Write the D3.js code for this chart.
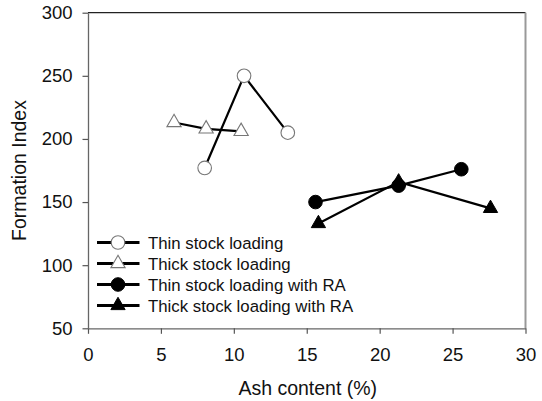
<!DOCTYPE html>
<html>
<head>
<meta charset="utf-8">
<script src="https://cdn.jsdelivr.net/npm/d3@7"></script>
<style>
  html, body { margin: 0; padding: 0; background: #fff; }
  svg { display: block; font-family: "Liberation Sans", Arial, sans-serif; }
</style>
</head>
<body>
<svg id="chart" width="542" height="401"></svg>
<script>
// ---- Data ----
const seriesNames = ["Thin stock loading", "Thick stock loading", "Thin stock loading with RA", "Thick stock loading with RA"];
const thinX = [8.0, 10.7, 13.7];
const thinY = [177, 250, 205];
const thickX = [5.9, 8.1, 10.5];
const thickY = [213, 208, 206];
const thinRAX = [15.6, 21.3, 25.6];
const thinRAY = [150, 163, 176];
const thickRAX = [15.8, 21.3, 27.6];
const thickRAY = [133, 166, 145];
const xTicks = [0, 5, 10, 15, 20, 25, 30];
const yTicks = [50, 100, 150, 200, 250, 300];
const xLabel = "Ash content (%)";
const yLabel = "Formation Index";

(function () {
const series = [
  { name: seriesNames[0], xs: thinX, ys: thinY, shape: "circle", filled: false },
  { name: seriesNames[1], xs: thickX, ys: thickY, shape: "triangle", filled: false },
  { name: seriesNames[2], xs: thinRAX, ys: thinRAY, shape: "circle", filled: true },
  { name: seriesNames[3], xs: thickRAX, ys: thickRAY, shape: "triangle", filled: true }
];

// ---- Layout ----
const svg = d3.select("#chart");
const pL = 88, pR = 525.5, pT = 12.7, pB = 328.3;
const x = d3.scaleLinear().domain([0, 30]).range([pL, pR]);
const y = d3.scaleLinear().domain([50, 300]).range([pB, pT]);

// Frame top & right
svg.append("line").attr("x1", pL).attr("x2", pR).attr("y1", pT).attr("y2", pT)
  .attr("stroke", "#222").attr("stroke-width", 1.3);
svg.append("line").attr("x1", pR).attr("x2", pR).attr("y1", pT).attr("y2", pB)
  .attr("stroke", "#999").attr("stroke-width", 2);

// Axes
const xAxis = svg.append("g").attr("transform", `translate(0,${pB})`)
  .call(d3.axisBottom(x).tickValues(xTicks).tickSize(5.5).tickSizeOuter(0).tickPadding(14));
const yAxis = svg.append("g").attr("transform", `translate(${pL},0)`)
  .call(d3.axisLeft(y).tickValues(yTicks).tickSize(5.5).tickSizeOuter(0).tickPadding(10));
[xAxis, yAxis].forEach(g => {
  g.select(".domain").attr("stroke", "#666").attr("stroke-width", 1.3);
  g.selectAll(".tick line").attr("stroke", "#555").attr("stroke-width", 1.2);
  g.selectAll(".tick text").attr("fill", "#111").style("font-size", "18.5px")
    .style("font-family", "'Liberation Sans', Arial, sans-serif");
});
xAxis.selectAll(".tick text").attr("dy", "0.71em");

// Axis titles
svg.append("text").attr("x", (pL + pR) / 2 + 1).attr("y", 395)
  .attr("text-anchor", "middle").style("font-size", "19.5px").attr("fill", "#111").text(xLabel);
svg.append("text").attr("transform", `translate(26,${(pT + pB) / 2}) rotate(-90)`)
  .attr("text-anchor", "middle").style("font-size", "19.5px").attr("fill", "#111").text(yLabel);

// Markers
function symPath(shape) {
  return shape === "circle"
    ? d3.symbol().type(d3.symbolCircle).size(Math.PI * 6.8 * 6.8)()
    : d3.symbol().type(d3.symbolTriangle).size(88)();
}
function drawMarker(g, s, cx, cy) {
  g.append("path").attr("d", symPath(s.shape))
    .attr("transform", `translate(${cx},${cy})`)
    .attr("fill", s.filled ? "#000" : "#fff")
    .attr("stroke", s.filled ? "#000" : "#777")
    .attr("stroke-width", s.filled ? 1 : 1.1);
}

const line = d3.line().x(d => x(d[0])).y(d => y(d[1]));
series.forEach(s => {
  const pts = s.xs.map((v, i) => [v, s.ys[i]]);
  svg.append("path").attr("d", line(pts)).attr("fill", "none")
    .attr("stroke", "#000").attr("stroke-width", 2.2);
});
series.forEach(s => {
  const g = svg.append("g");
  s.xs.forEach((v, i) => drawMarker(g, s, x(v), y(s.ys[i])));
});

// Legend
const legY = [242.5, 263.5, 284.5, 305.5];
series.forEach((s, i) => {
  const g = svg.append("g");
  g.append("line").attr("x1", 97).attr("x2", 139.5).attr("y1", legY[i]).attr("y2", legY[i])
    .attr("stroke", "#000").attr("stroke-width", 3);
  drawMarker(g, s, 118, legY[i]);
  g.append("text").attr("x", 148).attr("y", legY[i]).attr("dy", "0.36em")
    .style("font-size", "16.8px").attr("fill", "#111").text(s.name);
});
})();
</script>
</body>
</html>
